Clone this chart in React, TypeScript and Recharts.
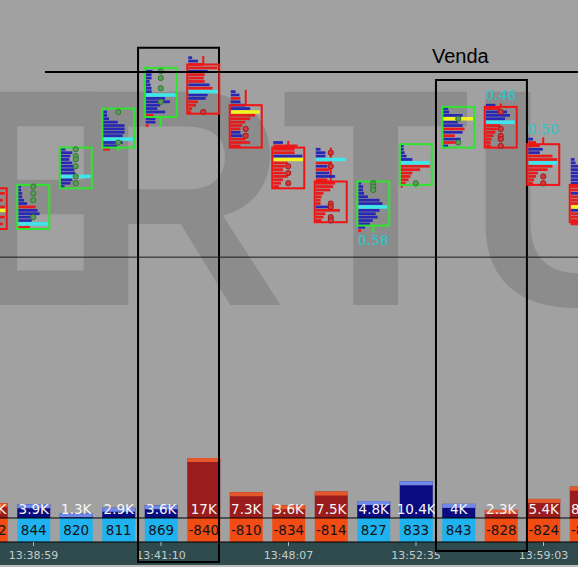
import React from 'react';
import { ComposedChart, Bar, XAxis, YAxis, ReferenceLine, ReferenceArea } from 'recharts';

// ---------- data ----------
const candleIdx = [0, 1, 2, 3, 4, 5, 6, 7, 8, 9, 10, 11, 12, 13, 14];
const candleDir = ['d', 'u', 'u', 'u', 'u', 'd', 'd', 'd', 'd', 'u', 'u', 'u', 'd', 'd', 'd'];
const boxLow = [62.5, 62.5, 74.5, 86.5, 95.5, 96.5, 86.5, 74.5, 64.5, 63.5, 75.5, 86.5, 86.5, 75.5, 64.5];
const boxHigh = [74.5, 75.5, 86.5, 98, 110, 111, 99, 86.5, 76.5, 76.5, 87.5, 98.5, 98.5, 87.5, 75.5];
const rowStart = [63, 63, 75, 86, 93, 97, 87, 75, 65, 62, 75, 87, 87, 76, 64];
// footprint rows, bottom -> top (positive = buy/blue, negative = sell/red)
const rowVolumes = [
  [-20, -28, -15, -30, -20, 31, -30, -18, -28, -22, -30, -15],
  [-12, 32, 14, 14, 22, 20, -18, 9, 6, 4, 4, 3, 3],
  [4, 10, 12, 31, 15, 14, 14, 12, 9, 10, 12, 5],
  [-7, 14, 20, 31, 20, 22, 22, 22, 15, 6, 4, 4],
  [-3, 10, 10, -8, 20, 12, 15, 25, 20, 31, 6, 6, 5, 4, 6, 6, 7],
  [-3, -4, -8, -10, 18, 20, 31, -25, 22, -17, -16, -17, 20, -30, -15, 10, 4],
  [-10, -20, -15, 12, 10, -10, -12, -15, -20, -25, 30, 20, 15, 10, -10, 9, 5],
  [-6, -8, -10, -15, -12, -10, -12, -15, 31, 30, -22, -22, -25, 10],
  [-6, -8, -10, -25, 15, -5, -5, -6, -8, -15, -18, -20, -12, 20, 14, -14, 12, -15, 31, 10, 10, 5],
  [-3, 7, 12, 15, 20, 18, 22, 30, 25, 22, 10, 6, 5, 5, 3],
  [-2, -5, -8, -10, -12, -20, -30, 30, 12, 6, 4, 3, 3],
  [5, -15, 18, -12, 20, -22, 20, 15, 31, 20, 6, 5],
  [-5, -5, -6, -8, -10, -12, -15, 30, 20, 25, 22, -15, 10],
  [-5, -6, -8, -10, -20, -25, 30, -30, -25, 12, 15, -12, -8, 5],
  [-10, -8, -12, -15, 20, 30, -25, -20, -15, 10, -12, -15, 12, 15, 10, 12, 10, 8, 5, 4],
];
const pocIndex = [5, 1, 3, 3, 9, 6, 10, 8, 18, 7, 7, 8, 7, 6, 5];
const pocColor = ['y', 'c', 'c', 'c', 'c', 'c', 'y', 'y', 'c', 'c', 'c', 'y', 'c', 'c', 'y'];
const circleLevels = [
  [], [75, 73, 71, 66], [86, 84, 83, 81, 78, 76], [97, 88], [109, 107, 104, 100], [97], [92, 90],
  [81, 79, 76], [85, 81, 70, 69, 66, 65], [76, 75, 74], [76], [95, 88], [97, 92, 90, 89, 87], [78, 76], [],
];
const ratioLabel = ['', '', '', '', '', '', '', '', '', '0.58', '', '', '0.46', '0.50', ''];
const ratioSide = ['', '', '', '', '', '', '', '', '', 'below', '', '', 'above', 'above', ''];
const volumeK = [4.2, 3.9, 1.3, 2.9, 3.6, 17, 7.3, 3.6, 7.5, 4.8, 10.4, 4.0, 2.3, 5.4, 8.9];
const volumeLabel = ['4.2K', '3.9K', '1.3K', '2.9K', '3.6K', '17K', '7.3K', '3.6K', '7.5K', '4.8K', '10.4K', '4K', '2.3K', '5.4K', '8.9K'];
const deltaValues = [-832, 844, 820, 811, 869, -840, -810, -834, -814, 827, 833, 843, -828, -824, -836];
const timeTicks = [1, 4, 7, 10, 13];
const timeLabels = ['13:38:59', '13:41:10', '13:48:07', '13:52:35', '13:59:03'];
const sellLevel = 108.8;
const sellStart = 1.27;
const sellLabel = 'Venda';
const priceLevel = 54.2;
const highlightBoxes = [
  { x1: 3.46, x2: 5.365, y1: 115.9, y2: -35.7 },
  { x1: 10.47, x2: 12.61, y1: 106.4, y2: -32.4 },
];

// ---------- scales ----------
const X_DOMAIN: [number, number] = [0.21176, 13.81176];
const P_DOMAIN: [number, number] = [-29.78, 130.01];
const V_DOMAIN: [number, number] = [-6.8, 146.74];

const data = candleIdx.map((i) => ({
  i,
  dir: candleDir[i],
  box: [boxLow[i], boxHigh[i]],
  rows: rowVolumes[i],
  rowStart: rowStart[i],
  poc: pocIndex[i],
  pocColor: pocColor[i],
  circles: circleLevels[i],
  ratio: ratioLabel[i],
  ratioSide: ratioSide[i],
  vol: volumeK[i],
  volLabel: volumeLabel[i],
  delta: deltaValues[i],
}));

const FONT = 'DejaVu Sans';

function CandleShape(props: any) {
  const { x, y, width, height, payload } = props;
  if (x == null || y == null || !payload) return null;
  const [lo, hi] = payload.box;
  const top = Math.min(y, y + height);
  const h = Math.abs(height);
  const u = h / (hi - lo);
  const py = (p: number) => top + (hi - p) * u;
  const up = payload.dir === 'u';
  const edge = up ? '#2fe42f' : '#f01414';
  const cx = x + width / 2;
  const rows: number[] = payload.rows;
  const first = payload.rowStart;
  const wickTop = first + rows.length - 0.5;
  const wickBot = first - 0.5;
  const k = (width - 3) / 32;
  const els: any[] = [];
  if (wickTop > hi) {
    els.push(<line key="wt" x1={cx} x2={cx} y1={py(hi)} y2={py(wickTop)} stroke={edge} strokeWidth={2} />);
  }
  if (wickBot < lo) {
    els.push(<line key="wb" x1={cx} x2={cx} y1={py(lo)} y2={py(wickBot)} stroke={edge} strokeWidth={2} />);
  }
  rows.forEach((v, j) => {
    const cy = py(first + j);
    const isPoc = j === payload.poc;
    const color = isPoc ? (payload.pocColor === 'y' ? '#f3f31e' : '#3fe7ec') : v > 0 ? '#2828b4' : '#e61c1c';
    const rh = isPoc ? u * 1.05 : u * 0.8;
    els.push(<rect key={'r' + j} x={x + 2} y={cy - rh / 2} width={Math.abs(v) * k} height={rh} fill={color} />);
  });
  els.push(
    <rect key="box" x={x + 1} y={top} width={width - 2} height={h} fill="none" stroke={edge} strokeWidth={2} />
  );
  (payload.circles as number[]).forEach((p, j) => {
    els.push(
      <circle key={'c' + j} cx={cx} cy={py(p)} r={2.6}
        fill={up ? '#5a9a5a' : '#d23a3a'} stroke={up ? '#2f7a2f' : '#a81414'} strokeWidth={1} />
    );
  });
  if (payload.ratio) {
    const ly = payload.ratioSide === 'below' ? py(wickBot) + 8 : py(wickTop) - 8.5;
    els.push(
      <text key="lbl" x={cx} y={ly} textAnchor="middle" dominantBaseline="central" fill="#2ec6ca" fontSize={14} fontFamily={FONT}>
        {payload.ratio}
      </text>
    );
  }
  return <g>{els}</g>;
}

function VolumeShape(props: any) {
  const { x, y, width, height, payload } = props;
  if (x == null || y == null || !payload) return null;
  const top = Math.min(y, y + height);
  const h = Math.abs(height);
  const base = top + h;
  const up = payload.dir === 'u';
  const body = up ? '#0b0b80' : '#9b1c1c';
  const cap = up ? '#7189e6' : '#e4582c';
  const capH = Math.min(4, h);
  const cx = x + width / 2;
  const pos = payload.delta > 0;
  return (
    <g>
      <rect x={x} y={top} width={width} height={h} fill={body} />
      <rect x={x} y={top} width={width} height={capH} fill={cap} />
      <text x={cx} y={base - 9} textAnchor="middle" dominantBaseline="central" fill="#f6f6f6" fontSize={13.5} fontFamily={FONT}>
        {payload.volLabel}
      </text>
      <rect x={x} y={base} width={width} height={24} fill={pos ? '#1fb2ee' : '#f04c14'} />
      <text x={cx} y={base + 12.5} textAnchor="middle" dominantBaseline="central" fill="#15131a" fontSize={13.5} fontFamily={FONT}>
        {payload.delta}
      </text>
    </g>
  );
}

const chartProps = {
  width: 578,
  height: 567,
  data,
  margin: { top: 0, right: 0, bottom: 0, left: 0 },
};

export default function App() {
  return (
    <div style={{ position: 'absolute', left: 0, top: 0, width: 578, height: 567, background: '#a1a1a1', overflow: 'hidden', fontFamily: FONT }}>
      <svg width={578} height={567} style={{ position: 'absolute', left: 0, top: 0 }}>
        <g fill="#8c8c8c" fontFamily="Liberation Sans" fontWeight="bold" fontSize={310}>
          <text transform="translate(-22,305) scale(0.6,1)">E</text>
          <text x={63} y={305}>R</text>
          <text x={281} y={305}>T</text>
          <text x={467} y={305}>U</text>
        </g>
      </svg>
      <div style={{ position: 'absolute', left: 0, top: 542, width: 578, height: 23, background: '#2f4a4c' }} />
      <div style={{ position: 'absolute', left: 0, top: 565, width: 578, height: 2, background: '#bcbcbc' }} />
      {/* volume / delta panel with time axis */}
      <div style={{ position: 'absolute', left: 0, top: 0 }}>
        <ComposedChart {...chartProps}>
          <XAxis
            type="number"
            dataKey="i"
            domain={X_DOMAIN}
            allowDataOverflow
            ticks={timeTicks}
            interval={0}
            tickFormatter={(v: number) => timeLabels[timeTicks.indexOf(v)] ?? ''}
            height={25}
            axisLine={{ stroke: '#000' }}
            tickLine={{ stroke: '#b0b8b8' }}
            tickSize={4}
            tickMargin={5}
            tick={{ fill: '#c6cccc', fontSize: 11, fontFamily: FONT }}
          />
          <YAxis yAxisId="v" type="number" hide domain={V_DOMAIN} allowDataOverflow />
          <ReferenceLine yAxisId="v" y={0} stroke="#000" strokeWidth={1} />
          <Bar yAxisId="v" dataKey="vol" barSize={33} shape={VolumeShape} isAnimationActive={false} />
        </ComposedChart>
      </div>
      {/* price / footprint panel */}
      <div style={{ position: 'absolute', left: 0, top: 0 }}>
        <ComposedChart {...chartProps}>
          <XAxis
            type="number"
            dataKey="i"
            domain={X_DOMAIN}
            allowDataOverflow
            height={25}
            tick={false}
            axisLine={false}
            tickLine={false}
          />
          <YAxis yAxisId="p" type="number" hide domain={P_DOMAIN} allowDataOverflow />
          <ReferenceLine yAxisId="p" y={priceLevel} stroke="#1a1a1a" strokeWidth={1} />
          <ReferenceLine
            yAxisId="p"
            segment={[{ x: sellStart, y: sellLevel }, { x: X_DOMAIN[1], y: sellLevel }]}
            stroke="#000"
            strokeWidth={2}
            ifOverflow="visible"
          />
          <Bar yAxisId="p" dataKey="box" barSize={34} shape={CandleShape} isAnimationActive={false} />
          {highlightBoxes.map((b, j) => (
            <ReferenceArea key={j} yAxisId="p" x1={b.x1} x2={b.x2} y1={b.y1} y2={b.y2}
              fill="none" fillOpacity={0} stroke="#000" strokeWidth={2} ifOverflow="visible" />
          ))}
        </ComposedChart>
      </div>
      <svg width={578} height={567} style={{ position: 'absolute', left: 0, top: 0, pointerEvents: 'none' }}>
        <text x={432} y={63} fontSize={20} fontFamily="Liberation Sans" fill="#000">{sellLabel}</text>
      </svg>
    </div>
  );
}
